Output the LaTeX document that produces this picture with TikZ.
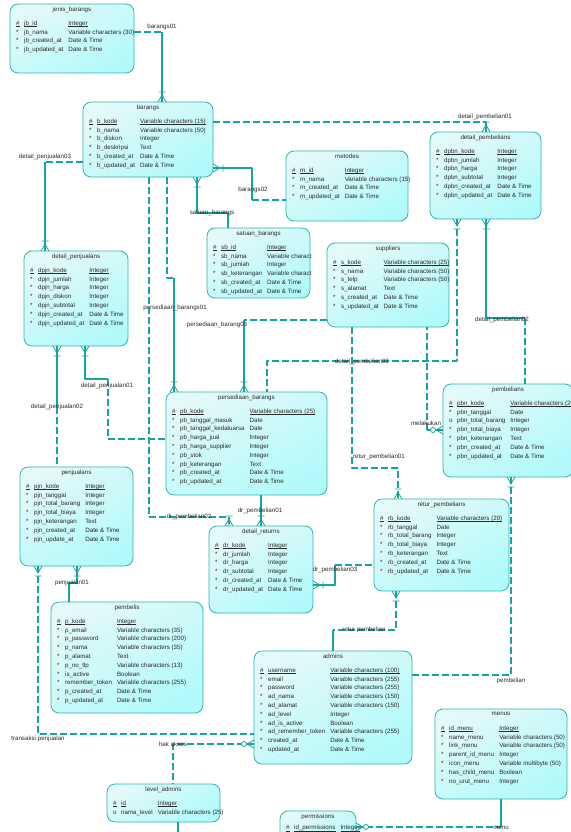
\documentclass[tikz,border=0pt]{standalone}
\usepackage{fontspec}
\setmainfont{Liberation Sans}
\definecolor{linkc}{HTML}{14A5A2}
\definecolor{edgec}{HTML}{2DB5B1}
\definecolor{fillA}{HTML}{E4F9F9}
\definecolor{fillB}{HTML}{B2FAFA}
\definecolor{txtc}{HTML}{2A2A2A}
\newcommand\ul[1]{\setbox0\hbox{#1}\rlap{\rule[-1.3pt]{\wd0}{.45pt}}\box0}
\newcommand\pkrow[2]{\ul{\#}&\ul{#1}&\ul{#2}\\}
\newcommand\atrow[2]{*&#1&#2\\}
\newcommand\oprow[2]{o&#1&#2\\}
\newcommand\attrs[1]{\begin{tabular}{@{}l@{\hspace{4.5pt}}l@{\hspace{5pt}}l@{}}#1\end{tabular}}
\begin{document}
\begin{tikzpicture}[x=1pt,y=-1pt,line join=round,
	ent/.style={draw=edgec,line width=.8pt,rounded corners=8pt,top color=fillA,bottom color=fillB,shading angle=30,anchor=north west,inner sep=0pt,outer sep=0pt},
	ttl/.style={anchor=north,inner sep=2.5pt,font=\fontsize{6.2}{7}\selectfont,text=txtc},
	rows/.style={anchor=north west,inner sep=0pt,font=\fontsize{6.2}{8.8}\selectfont,text=txtc},
	link/.style={draw=linkc,line width=1.1pt},
	opt/.style={link,dash pattern=on 7pt off 3pt},
	lbl/.style={inner sep=.5pt,font=\fontsize{6.2}{7}\selectfont,text=txtc},
	pics/crow/.style={code={\draw[link,line width=.8pt] (0,0)--(7,0) (0,-4)--(7,0)--(0,4) (10,-3.5)--(10,3.5);}},
	pics/crowo/.style={code={\draw[link,line width=.8pt] (0,0)--(7,0) (0,-4)--(7,0)--(0,4);
		\draw[link,line width=.8pt,fill=white] (10,0) circle[radius=2.5pt];}}]
	\fill[white] (0,0) rectangle (570,832);
	\useasboundingbox (0,0) rectangle (570,832);
	%Các bảng
	\node[ent,minimum width=124,minimum height=69,label={[ttl]north:jenis\_barangs}] (jb) at (10,4) {};
	\node[rows] at ([shift={(6,15)}]jb.north west) {\attrs{\pkrow{jb\_id}{Integer}\atrow{jb\_nama}{Variable characters (30)}\atrow{jb\_created\_at}{Date \& Time}\atrow{jb\_updated\_at}{Date \& Time}}};
	\node[ent,minimum width=130,minimum height=75,label={[ttl]north:barangs}] (br) at (83,102) {};
	\node[rows] at ([shift={(6,15)}]br.north west) {\attrs{\pkrow{b\_kode}{Variable characters (15)}\atrow{b\_nama}{Variable characters (50)}\atrow{b\_diskon}{Integer}\atrow{b\_deskripsi}{Text}\atrow{b\_created\_at}{Date \& Time}\atrow{b\_updated\_at}{Date \& Time}}};
	\node[ent,minimum width=122,minimum height=70,label={[ttl]north:metodes}] (mt) at (286,151) {};
	\node[rows] at ([shift={(6,15)}]mt.north west) {\attrs{\pkrow{m\_id}{Integer}\atrow{m\_nama}{Variable characters (15)}\atrow{m\_created\_at}{Date \& Time}\atrow{m\_updated\_at}{Date \& Time}}};
	\node[ent,minimum width=103,minimum height=70,label={[ttl]north:satuan\_barangs}] (sb) at (207,228) {};
	\node[rows] at ([shift={(6,15)}]sb.north west) {\attrs{\pkrow{sb\_id}{Integer}\atrow{sb\_nama}{Variable charact}\atrow{sb\_jumlah}{Integer}\atrow{sb\_keterangan}{Variable charact}\atrow{sb\_created\_at}{Date \& Time}\atrow{sb\_updated\_at}{Date \& Time}}};
	\node[ent,minimum width=122,minimum height=84,label={[ttl]north:suppliers}] (sp) at (327,243) {};
	\node[rows] at ([shift={(6,15)}]sp.north west) {\attrs{\pkrow{s\_kode}{Variable characters (25)}\atrow{s\_nama}{Variable characters (50)}\atrow{s\_telp}{Variable characters (50)}\atrow{s\_alamat}{Text}\atrow{s\_created\_at}{Date \& Time}\atrow{s\_updated\_at}{Date \& Time}}};
	\node[ent,minimum width=111,minimum height=87,label={[ttl]north:detail\_pembelians}] (dpb) at (430,132) {};
	\node[rows] at ([shift={(6,15)}]dpb.north west) {\attrs{\pkrow{dpbn\_kode}{Integer}\atrow{dpbn\_jumlah}{Integer}\atrow{dpbn\_harga}{Integer}\atrow{dpbn\_subtotal}{Integer}\atrow{dpbn\_created\_at}{Date \& Time}\atrow{dpbn\_updated\_at}{Date \& Time}}};
	\node[ent,minimum width=104,minimum height=95,label={[ttl]north:detail\_penjualans}] (dpj) at (24,251) {};
	\node[rows] at ([shift={(6,15)}]dpj.north west) {\attrs{\pkrow{dpjn\_kode}{Integer}\atrow{dpjn\_jumlah}{Integer}\atrow{dpjn\_harga}{Integer}\atrow{dpjn\_diskon}{Integer}\atrow{dpjn\_subtotal}{Integer}\atrow{dpjn\_created\_at}{Date \& Time}\atrow{dpjn\_updated\_at}{Date \& Time}}};
	\node[ent,minimum width=161,minimum height=103,label={[ttl]north:persediaan\_barangs}] (pb) at (166,392) {};
	\node[rows] at ([shift={(6,15)}]pb.north west) {\attrs{\pkrow{pb\_kode}{Variable characters (25)}\atrow{pb\_tanggal\_masuk}{Date}\atrow{pb\_tanggal\_kedaluarsa}{Date}\atrow{pb\_harga\_jual}{Integer}\atrow{pb\_harga\_supplier}{Integer}\atrow{pb\_stok}{Integer}\atrow{pb\_keterangan}{Text}\atrow{pb\_created\_at}{Date \& Time}\atrow{pb\_updated\_at}{Date \& Time}}};
	\node[ent,minimum width=130,minimum height=93,label={[ttl]north:pembelians}] (pbn) at (443,384) {};
	\node[rows] at ([shift={(6,15)}]pbn.north west) {\attrs{\pkrow{pbn\_kode}{Variable characters (20)}\atrow{pbn\_tanggal}{Date}\oprow{pbn\_total\_barang}{Integer}\atrow{pbn\_total\_biaya}{Integer}\atrow{pbn\_keterangan}{Text}\atrow{pbn\_created\_at}{Date \& Time}\atrow{pbn\_updated\_at}{Date \& Time}}};
	\node[ent,minimum width=113,minimum height=99,label={[ttl]north:penjualans}] (pj) at (20,467) {};
	\node[rows] at ([shift={(6,15)}]pj.north west) {\attrs{\pkrow{pjn\_kode}{Integer}\atrow{pjn\_tanggal}{Integer}\atrow{pjn\_total\_barang}{Integer}\atrow{pjn\_total\_biaya}{Integer}\atrow{pjn\_keterangan}{Text}\atrow{pjn\_created\_at}{Date \& Time}\atrow{pjn\_update\_at}{Date \& Time}}};
	\node[ent,minimum width=104,minimum height=87,label={[ttl]north:detail\_returns}] (dr) at (209,526) {};
	\node[rows] at ([shift={(6,15)}]dr.north west) {\attrs{\pkrow{dr\_kode}{Integer}\atrow{dr\_jumlah}{Integer}\atrow{dr\_harga}{Integer}\atrow{dr\_subtotal}{Integer}\atrow{dr\_created\_at}{Date \& Time}\atrow{dr\_updated\_at}{Date \& Time}}};
	\node[ent,minimum width=135,minimum height=92,label={[ttl]north:retur\_pembelians}] (rp) at (374,499) {};
	\node[rows] at ([shift={(6,15)}]rp.north west) {\attrs{\pkrow{rb\_kode}{Variable characters (20)}\atrow{rb\_tanggal}{Date}\atrow{rb\_total\_barang}{Integer}\atrow{rb\_total\_biaya}{Integer}\atrow{rb\_keterangan}{Text}\atrow{rb\_created\_at}{Date \& Time}\atrow{rb\_updated\_at}{Date \& Time}}};
	\node[ent,minimum width=152,minimum height=111,label={[ttl]north:pembelis}] (pbl) at (51,602) {};
	\node[rows] at ([shift={(6,15)}]pbl.north west) {\attrs{\pkrow{p\_kode}{Integer}\atrow{p\_email}{Variable characters (35)}\atrow{p\_password}{Variable characters (200)}\atrow{p\_nama}{Variable characters (35)}\atrow{p\_alamat}{Text}\atrow{p\_no\_tlp}{Variable characters (13)}\atrow{is\_active}{Boolean}\atrow{remember\_token}{Variable characters (255)}\atrow{p\_created\_at}{Date \& Time}\atrow{p\_updated\_at}{Date \& Time}}};
	\node[ent,minimum width=158,minimum height=113,label={[ttl]north:admins}] (adm) at (254,651) {};
	\node[rows] at ([shift={(6,15)}]adm.north west) {\attrs{\pkrow{username}{Variable characters (100)}\atrow{email}{Variable characters (255)}\atrow{password}{Variable characters (255)}\atrow{ad\_nama}{Variable characters (150)}\atrow{ad\_alamat}{Variable characters (150)}\atrow{ad\_level}{Integer}\atrow{ad\_is\_active}{Boolean}\atrow{ad\_remember\_token}{Variable characters (255)}\atrow{created\_at}{Date \& Time}\atrow{updated\_at}{Date \& Time}}};
	\node[ent,minimum width=132,minimum height=90,label={[ttl]north:menus}] (mn) at (435,709) {};
	\node[rows] at ([shift={(6,15)}]mn.north west) {\attrs{\pkrow{id\_menu}{Integer}\atrow{name\_menu}{Variable characters (50)}\atrow{link\_menu}{Variable characters (50)}\atrow{parent\_id\_menu}{Integer}\atrow{icon\_menu}{Variable multibyte (50)}\atrow{has\_child\_menu}{Boolean}\atrow{no\_urut\_menu}{Integer}}};
	\node[ent,minimum width=113,minimum height=38,label={[ttl]north:level\_admins}] (la) at (107,784) {};
	\node[rows] at ([shift={(6,15)}]la.north west) {\attrs{\pkrow{id}{Integer}\oprow{nama\_level}{Variable characters (25)}}};
	\node[ent,minimum width=76,minimum height=40,label={[ttl]north:permissions}] (pm) at (280,811) {};
	\node[rows] at ([shift={(6,12.5)}]pm.north west) {\attrs{\pkrow{id\_permissions}{Integer}}};
	%Các quan hệ
	\draw[opt] (jb.east |- 0,32) -- (162,32);
	\draw[link] (162,32) -- (br.north -| 162,0);
	\pic[rotate=90] at (br.north -| 162,0) {crow};
	\node[lbl] at (162,27) {barangs01};
	\draw[opt] (br.east |- 0,122) -- (486,122);
	\draw[link] (486,122) -- (dpb.north -| 486,0);
	\pic[rotate=90] at (dpb.north -| 486,0) {crow};
	\node[lbl] at (485,117) {detail\_pembelian01};
	\draw[opt] (br.west |- 0,162) -- (45,162);
	\draw[link] (45,162) -- (dpj.north -| 45,0);
	\pic[rotate=90] at (dpj.north -| 45,0) {crow};
	\node[lbl] at (45,157) {detail\_penjualan03};
	\draw[link] (br.east |- 0,168) -- (252,168) -- (252,200);
	\draw[opt] (252,200) -- (mt.west |- 0,200);
	\pic at (br.east |- 0,168) {crow};
	\node[lbl] at (253,190) {barangs02};
	\draw[link] (br.south -| 197,0) -- (197,213) -- (228,213) -- (sb.north -| 228,0);
	\pic[rotate=-90] at (br.south -| 197,0) {crow};
	\node[lbl] at (212,213) {satuan\_barangs};
	\draw[opt] (br.south -| 167,0) -- (167,278) -- (174,278);
	\draw[link] (174,278) -- (pb.north -| 174,0);
	\pic[rotate=90] at (pb.north -| 174,0) {crow};
	\node[lbl] at (175,308) {persediaan\_barangs01};
	\draw[opt] (br.south -| 149,0) -- (149,517) -- (229,517) -- (dr.north -| 229,0);
	\pic[rotate=90] at (dr.north -| 229,0) {crow};
	\node[lbl] at (189,517) {dr\_pembelian02};
	\draw[link] (dpj.south -| 85,0) -- (85,379) -- (108,379);
	\draw[opt] (108,379) -- (108,439) -- (pb.west |- 0,439);
	\pic[rotate=-90] at (dpj.south -| 85,0) {crow};
	\node[lbl] at (107,386) {detail\_penjualan01};
	\draw[link] (dpj.south -| 57,0) -- (57,407);
	\draw[opt] (57,407) -- (pj.north -| 57,0);
	\pic[rotate=-90] at (dpj.south -| 57,0) {crow};
	\node[lbl] at (57,407) {detail\_penjualan02};
	\draw[link] (pj.south -| 77,0) -- (77,583) -- (69,583) -- (pbl.north -| 69,0);
	\pic[rotate=-90] at (pj.south -| 77,0) {crow};
	\node[lbl] at (72,583) {penjualan01};
	\draw[opt] (pj.south -| 38,0) -- (38,734) -- (adm.west |- 0,734);
	\pic[rotate=-90] at (pj.south -| 38,0) {crow};
	\node[lbl] at (38,739) {transaksi penjualan};
	\draw[opt] (adm.west |- 0,744) -- (173,744) -- (la.north -| 173,0);
	\pic[rotate=180] at (adm.west |- 0,744) {crowo};
	\node[lbl] at (173,744) {hak akses};
	\draw[opt] (rp.south -| 396,0) -- (396,630) -- (333,630);
	\draw[link] (333,630) -- (adm.north -| 333,0);
	\pic[rotate=-90] at (rp.south -| 396,0) {crow};
	\node[lbl] at (364,630) {retur pembelian};
	\draw[opt] (pbn.south -| 511,0) -- (511,675) -- (adm.east |- 0,675);
	\pic[rotate=-90] at (pbn.south -| 511,0) {crow};
	\node[lbl] at (511,681) {pembelian};
	\draw[link] (pbn.west |- 0,430) -- (427,430);
	\draw[opt] (427,430) -- (sp.south -| 427,0);
	\pic[rotate=180] at (pbn.west |- 0,430) {crowo};
	\node[lbl] at (426,423) {melakukan};
	\draw[opt] (dpb.south -| 457,0) -- (457,361) -- (267,361) -- (pb.north -| 267,0);
	\pic[rotate=-90] at (dpb.south -| 457,0) {crow};
	\node[lbl] at (362,362) {detail\_pembelian03};
	\draw[opt] (sp.south -| 352,0) -- (352,468) -- (398,468) -- (rp.north -| 398,0);
	\pic[rotate=90] at (rp.north -| 398,0) {crow};
	\node[lbl] at (379,457) {retur\_pembelian01};
	\draw[opt] (sp.west |- 0,320) -- (244,320);
	\draw[link] (244,320) -- (pb.north -| 244,0);
	\pic[rotate=90] at (pb.north -| 244,0) {crow};
	\node[lbl] at (217,325) {persediaan\_barang03};
	\draw[link] (dpb.south -| 486,0) -- (486,318) -- (525,318);
	\draw[opt] (525,318) -- (pbn.north -| 525,0);
	\pic[rotate=-90] at (dpb.south -| 486,0) {crow};
	\node[lbl] at (502,320) {detail\_pembelian02};
	\draw[link] (pb.south -| 261,0) -- (dr.north -| 261,0);
	\pic[rotate=90] at (dr.north -| 261,0) {crow};
	\node[lbl] at (260,511) {dr\_pembelian01};
	\draw[link] (dr.east |- 0,585) -- (335,585) -- (335,565);
	\draw[opt] (335,565) -- (rp.west |- 0,565);
	\pic at (dr.east |- 0,585) {crow};
	\node[lbl] at (335,570) {dr\_pembelian03};
	\draw[opt] (pm.east |- 0,827) -- (501,827);
	\draw[link] (501,827) -- (mn.south -| 501,0);
	\pic at (pm.east |- 0,827) {crowo};
	\node[lbl] at (501,828) {menu};
	\coordinate (bawah) at (178,845);
	\draw[link] (la.south -| 178,0) -- (bawah);
\end{tikzpicture}
\end{document}
